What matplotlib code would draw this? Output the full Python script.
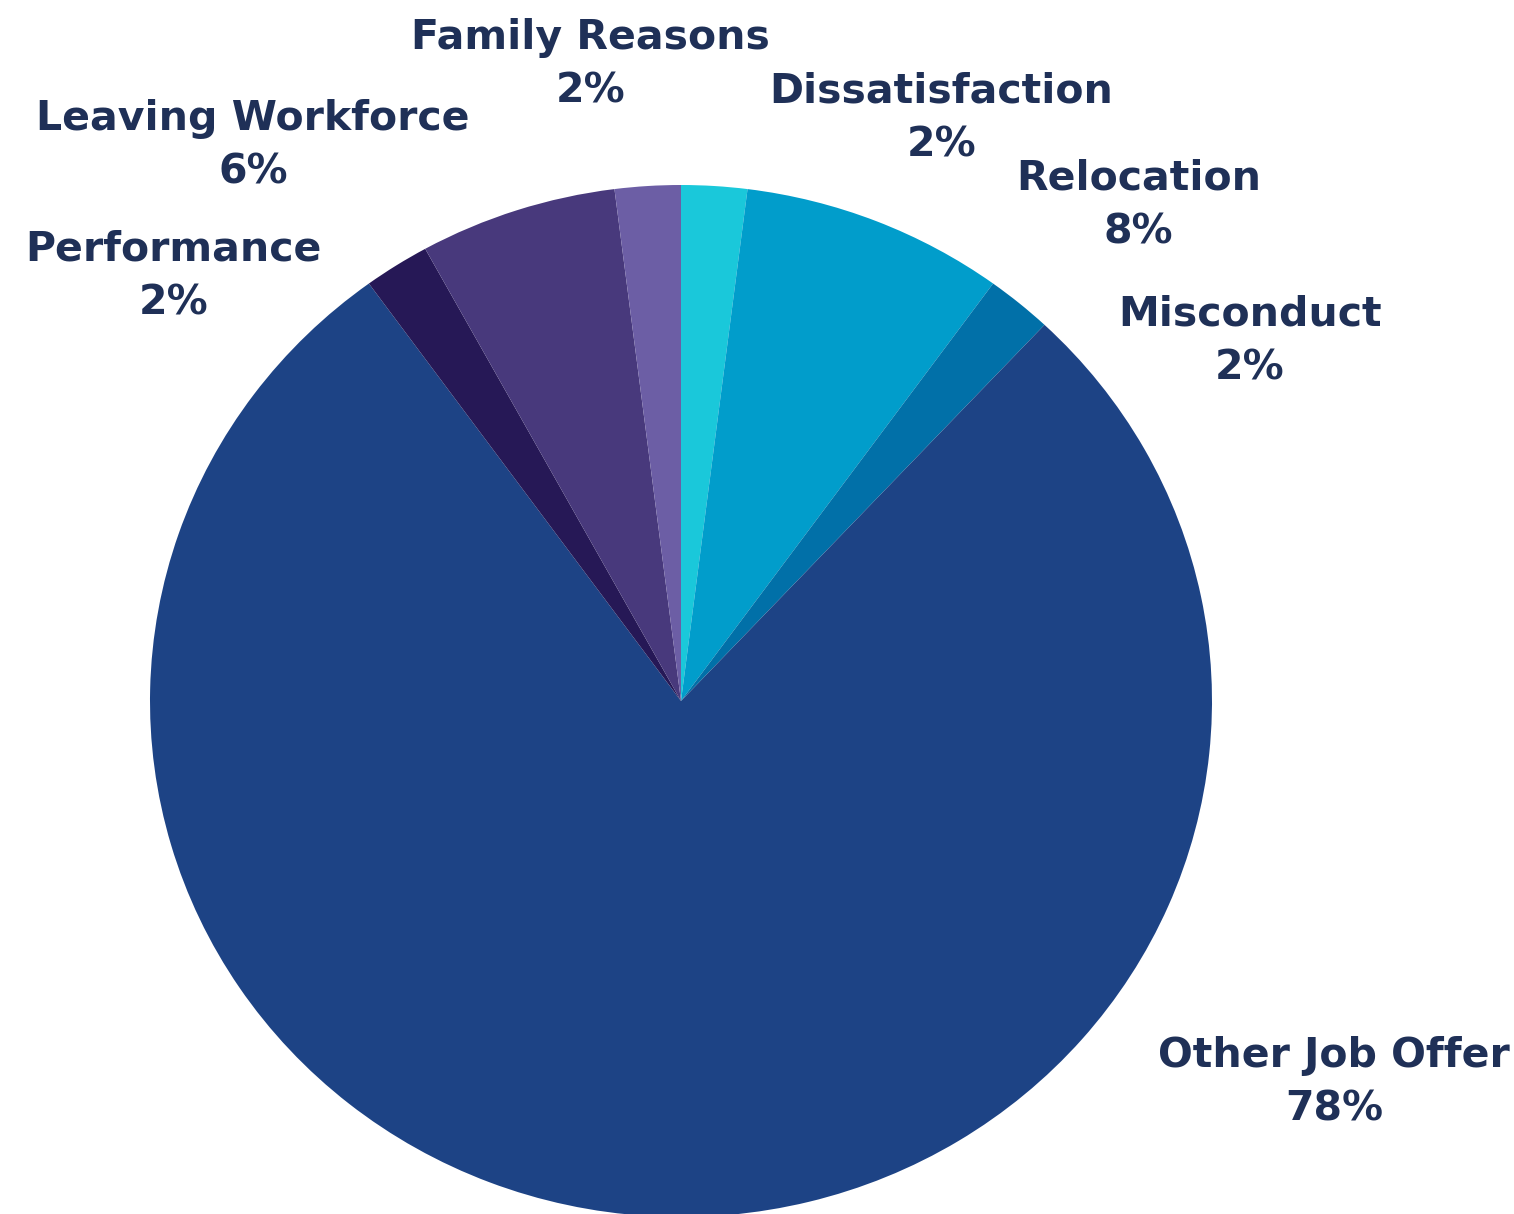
import matplotlib.pyplot as plt

# reasons for leaving, clockwise from 12 o'clock
reasons = ["Dissatisfaction", "Relocation", "Misconduct", "Other Job Offer",
           "Performance", "Leaving Workforce", "Family Reasons"]
shares = [2, 8, 2, 78, 2, 6, 2]
colors = ["#1ac8da", "#019dcb", "#0170a8", "#1d4385",
          "#261856", "#48397c", "#6c5ea5"]

# where each label block sits (data units, pie radius = 1)
label_xy = [(0.490, 1.128), (0.862, 0.961), (1.071, 0.696), (1.230, -0.740),
            (-0.955, 0.822), (-0.806, 1.076), (-0.171, 1.233)]

TEXT_COLOR = "#1f3057"

fig = plt.figure(figsize=(15.14, 12.14), dpi=100)
ax = fig.add_axes([0, 0, 1, 1])

ax.pie(shares, colors=colors, startangle=90, counterclock=False,
       radius=1, wedgeprops=dict(linewidth=0))

for name, val, (x, y) in zip(reasons, shares, label_xy):
    ax.text(x, y, f"{name}\n{val}%", ha="center", va="center",
            fontsize=29.5, fontweight="bold", family="DejaVu Sans",
            color=TEXT_COLOR, linespacing=1.45)

ax.set_aspect("auto")
ax.set_xlim(-681 / 531, (1514 - 681) / 531)
ax.set_ylim((701 - 1214) / 516, 701 / 516)
ax.axis("off")

fig.savefig("out.png", dpi=100)
